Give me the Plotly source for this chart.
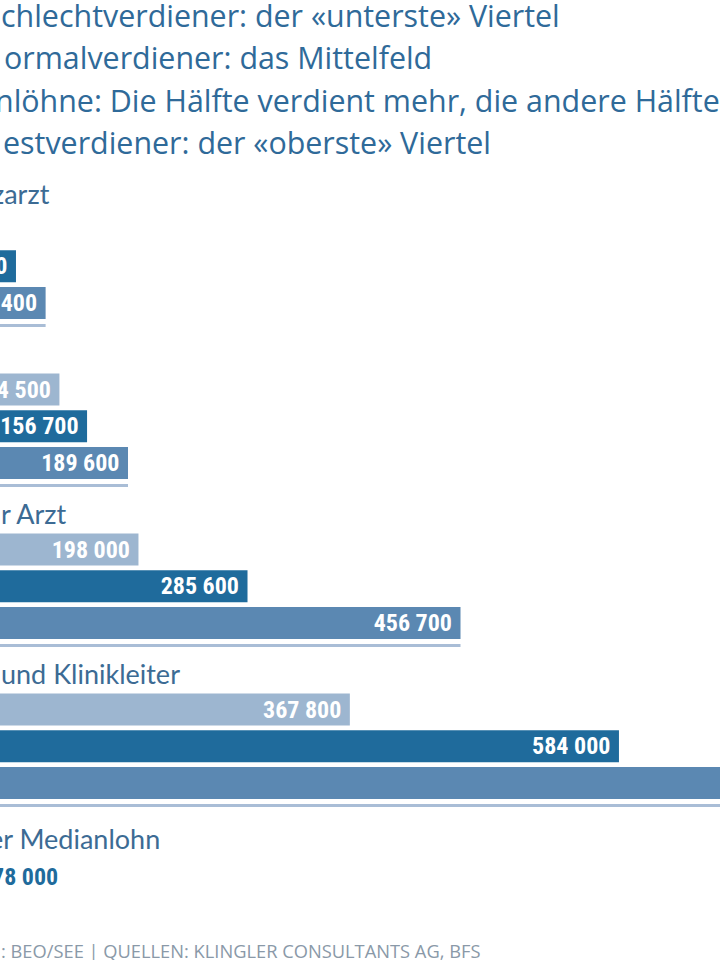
import plotly.graph_objects as go

# ---- data ----
categories = ["Assistenzarzt", "Oberarzt", "Leitender Arzt", "Chefärzte und Klinikleiter"]
low_quartile = [84000, 134500, 198000, 367800]      # Schlechtverdiener
median_pay = [99600, 156700, 285600, 584000]        # Medianlöhne
high_quartile = [123400, 189600, 456700, 812000]    # Bestverdiener
swiss_median = 78000

legend_lines = [
    "chlechtverdiener: der «unterste» Viertel",
    "ormalverdiener: das Mittelfeld",
    "nlöhne: Die Hälfte verdient mehr, die andere Hälfte weniger",
    "estverdiener: der «oberste» Viertel",
]
group_label_fragments = ["zarzt", "", "r Arzt", "und Klinikleiter"]
median_label = "er Medianlohn"
footer = ": BEO/SEE | QUELLEN: KLINGLER CONSULTANTS AG, BFS"

# ---- styling ----
C_LOW = "#9db6d0"
C_MED = "#1f6b9c"
C_HIGH = "#5b88b2"
C_LINE = "#a9bdd6"
C_TEXT = "#2f6a99"
C_LABEL = "#3c6b94"
C_FOOT = "#8a99a8"
BAR_FONT = "Liberation Sans Narrow, Roboto Condensed, DejaVu Sans Condensed, Arial Narrow, sans-serif"
LAB_FONT = "Lato, Open Sans, sans-serif"
LEG_FONT = "Open Sans, Lato, sans-serif"

W, H = 720, 960
PX_PER_UNIT = 0.0012448
X0_PX = -108.0
x_range = [(0 - X0_PX) / PX_PER_UNIT, (W - X0_PX) / PX_PER_UNIT]

GROUP0 = 229.5
GROUP_STEP = 160.0
BAR_STEP = 36.75
BAR_H = 32


def fmt(v):
    return f"{v:,}".replace(",", " ") + "\u00a0"


n = len(categories)
y_low = [GROUP0 + GROUP_STEP * g for g in range(n)]
y_med = [GROUP0 + GROUP_STEP * g + BAR_STEP for g in range(n)]
y_high = [GROUP0 + GROUP_STEP * g + 2 * BAR_STEP for g in range(n)]
y_line = [y + 22.5 for y in y_high]

fig = go.Figure()
for xs, ys, col, name in [
    (low_quartile, y_low, C_LOW, "Schlechtverdiener"),
    (median_pay, y_med, C_MED, "Medianlöhne"),
    (high_quartile, y_high, C_HIGH, "Bestverdiener"),
]:
    fig.add_trace(go.Bar(
        x=xs, y=ys, orientation="h", width=BAR_H, name=name,
        marker=dict(color=col, line=dict(width=0)),
        text=[fmt(v) for v in xs], textposition="inside", insidetextanchor="end",
        textfont=dict(family=BAR_FONT, size=24, color="white", weight="bold"),
        hoverinfo="skip",
    ))

fig.add_trace(go.Bar(
    x=high_quartile, y=y_line, orientation="h", width=3,
    marker=dict(color=C_LINE, line=dict(width=0)), hoverinfo="skip",
))

ann = []
leg_y = [15, 57, 100, 142]
leg_x = [-1, 2, -7, 1]
for t, yy, xx in zip(legend_lines, leg_y, leg_x):
    ann.append(dict(text=t, x=xx / W, xref="paper", y=yy, yref="y", xanchor="left",
                    yanchor="middle", showarrow=False,
                    font=dict(family=LEG_FONT, size=30.4, color=C_TEXT)))

lab_x = [-10, 0, -1, -1]
for g, t in enumerate(group_label_fragments):
    if not t:
        continue
    ann.append(dict(text=t, x=lab_x[g] / W, xref="paper", y=y_low[g] - 36.5, yref="y",
                    xanchor="left", yanchor="middle", showarrow=False,
                    font=dict(family=LAB_FONT, size=27, color=C_LABEL)))

ann.append(dict(text=median_label, x=-13 / W, xref="paper", y=838, yref="y",
                xanchor="left", yanchor="middle", showarrow=False,
                font=dict(family=LAB_FONT, size=27, color=C_LABEL)))
ann.append(dict(text=f"{swiss_median:,}".replace(",", " "), x=-10 / W, xref="paper", y=877, yref="y",
                xanchor="left", yanchor="middle", showarrow=False,
                font=dict(family=BAR_FONT, size=24, color=C_MED, weight="bold")))
ann.append(dict(text=footer, x=-1 / W, xref="paper", y=950, yref="y",
                xanchor="left", yanchor="middle", showarrow=False,
                font=dict(family=LEG_FONT, size=18.3, color=C_FOOT)))

fig.update_layout(
    width=W, height=H, margin=dict(l=0, r=0, t=0, b=0),
    paper_bgcolor="white", plot_bgcolor="white",
    barmode="overlay", showlegend=False,
    xaxis=dict(range=x_range, visible=False, fixedrange=True),
    yaxis=dict(range=[H, 0], visible=False, fixedrange=True),
    annotations=ann,
    uniformtext=dict(minsize=24, mode="show"),
)

fig.write_html("out.html", config={"displayModeBar": False},
               post_script="document.body.style.margin='0px';")
